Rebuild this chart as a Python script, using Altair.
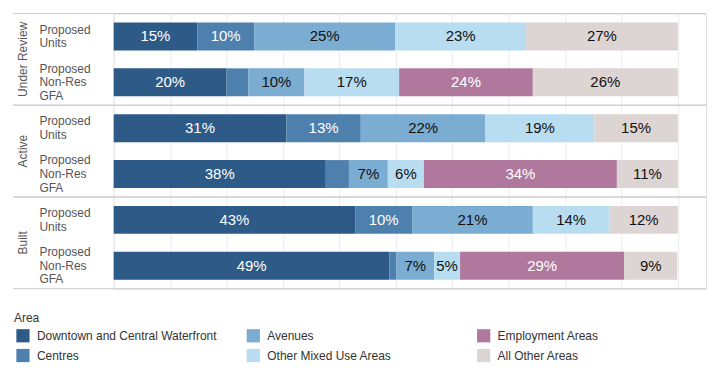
import altair as alt
import pandas as pd

statuses = ["Under Review", "Active", "Built"]
measures = ["Proposed Units", "Proposed Non-Res GFA"]
areas = [
    "Downtown and Central Waterfront",
    "Centres",
    "Avenues",
    "Other Mixed Use Areas",
    "Employment Areas",
    "All Other Areas",
]

# share of each area (%), in the order of `areas`
under_review_units = [14.8, 10.1, 25.0, 23.2, 0.0, 26.9]
under_review_nonres = [20.0, 3.9, 9.9, 16.8, 23.7, 25.7]
active_units = [30.6, 13.2, 22.1, 19.3, 0.0, 14.8]
active_nonres = [37.6, 4.1, 6.9, 6.4, 34.2, 10.8]
built_units = [42.8, 10.1, 21.4, 13.6, 0.0, 12.1]
built_nonres = [48.9, 1.2, 6.7, 4.6, 29.1, 9.4]

series = {
    ("Under Review", "Proposed Units"): under_review_units,
    ("Under Review", "Proposed Non-Res GFA"): under_review_nonres,
    ("Active", "Proposed Units"): active_units,
    ("Active", "Proposed Non-Res GFA"): active_nonres,
    ("Built", "Proposed Units"): built_units,
    ("Built", "Proposed Non-Res GFA"): built_nonres,
}

rows = []
keys = []
for s in statuses:
    for m in measures:
        key = f"{s}|{m}"
        keys.append(key)
        for i, a in enumerate(areas):
            v = series[(s, m)][i]
            if v > 0:
                rows.append({"status": s, "measure": m, "key": key, "area": a, "order": i, "value": v})
df = pd.DataFrame(rows)
status_df = pd.DataFrame({"status": statuses})

legend_order = [areas[0], areas[2], areas[4], areas[1], areas[3], areas[5]]
palette = {
    areas[0]: "#2d5a87",
    areas[1]: "#4e80ae",
    areas[2]: "#7badd3",
    areas[3]: "#b8ddf0",
    areas[4]: "#b1789e",
    areas[5]: "#ddd5d3",
}
dark_areas = [areas[0], areas[1], areas[4]]

W, H = 594, 276
LH = 13.6
FONT = "Liberation Sans, Arial, sans-serif"

xscale = alt.Scale(domain=[0, 105], nice=False, zero=True)
yscale = alt.Scale(domain=keys, paddingInner=0.3913, paddingOuter=0.1957)

x_axis = alt.Axis(
    values=list(range(0, 101, 10)), labels=False, ticks=False, domain=False,
    title=None, grid=True, gridColor="#ececec", gridWidth=1,
)
y_axis = alt.Axis(
    title=None, domain=False, ticks=False, tickSize=0, grid=False,
    labelAlign="left", labelPadding=75, labelFontSize=12, labelColor="#555555",
    labelFont=FONT, labelLineHeight=LH, labelBaseline="middle",
    labelOffset=alt.condition("indexof(datum.label, 'GFA') >= 0", alt.value(-LH), alt.value(-LH / 2)),
    labelExpr="split(split(datum.label, '|')[1], ' ')",
)

base = alt.Chart(df)

bars = base.mark_bar().encode(
    x=alt.X("value:Q", stack="zero", scale=xscale, axis=x_axis),
    y=alt.Y("key:N", sort=keys, scale=yscale, axis=y_axis),
    color=alt.Color(
        "area:N",
        scale=alt.Scale(domain=legend_order, range=[palette[a] for a in legend_order]),
        legend=alt.Legend(
            title="Area", orient="none", legendX=-100, legendY=300, columns=3,
            direction="horizontal",
            gridAlign="all", columnPadding=27, rowPadding=6, titlePadding=4,
            symbolType="square", symbolSize=175, symbolStrokeWidth=0, symbolOffset=2,
            labelOffset=7, labelFontSize=12, labelColor="#333333", labelFont=FONT,
            titleFontSize=12, titleFontWeight="normal", titleColor="#333333", titleFont=FONT,
            padding=0, labelLimit=400,
        ),
    ),
    order=alt.Order("order:Q", sort="ascending"),
)

labels = base.transform_window(
    cum="sum(value)", groupby=["key"], sort=[alt.SortField("order")], frame=[None, 0]
).transform_calculate(
    mid="datum.cum - datum.value / 2",
    label="datum.value >= 4.5 ? format(round(datum.value), 'd') + '%' : ''",
).mark_text(fontSize=15, font=FONT, align="center", baseline="middle").encode(
    x=alt.X("mid:Q", scale=xscale, axis=x_axis),
    y=alt.Y("key:N", sort=keys, scale=yscale, axis=None),
    text="label:N",
    color=alt.condition(
        alt.FieldOneOfPredicate(field="area", oneOf=dark_areas),
        alt.value("white"),
        alt.value("#111111"),
    ),
)

sscale = alt.Scale(type="band", domain=statuses, paddingInner=0, paddingOuter=0)

status_text = alt.Chart(status_df).mark_text(
    angle=270, fontSize=12, font=FONT, color="#555555", align="center", baseline="middle"
).encode(
    y=alt.Y("status:N", sort=statuses, scale=sscale, axis=None, bandPosition=0.5),
    x=alt.value(-91),
    text="status:N",
)

top_rules = alt.Chart(status_df).mark_rule(color="#cccccc", strokeWidth=1).encode(
    y=alt.Y("status:N", sort=statuses, scale=sscale, axis=None, bandPosition=0),
    x=alt.value(-101),
    x2=alt.value(W),
)
bottom_rules = alt.Chart(status_df).mark_rule(color="#cccccc", strokeWidth=1).encode(
    y=alt.Y("status:N", sort=statuses, scale=sscale, axis=None, bandPosition=1),
    x=alt.value(-101),
    x2=alt.value(W),
)

chart = alt.layer(bars, labels, top_rules, bottom_rules, status_text).resolve_scale(
    y="independent"
).properties(
    width=W, height=H, padding={"left": 4, "top": 4, "right": 5, "bottom": 5}
).configure_view(
    stroke="#cccccc", strokeWidth=1
).configure(font=FONT)

chart.save("out.html", embed_options={"renderer": "svg", "actions": False})
